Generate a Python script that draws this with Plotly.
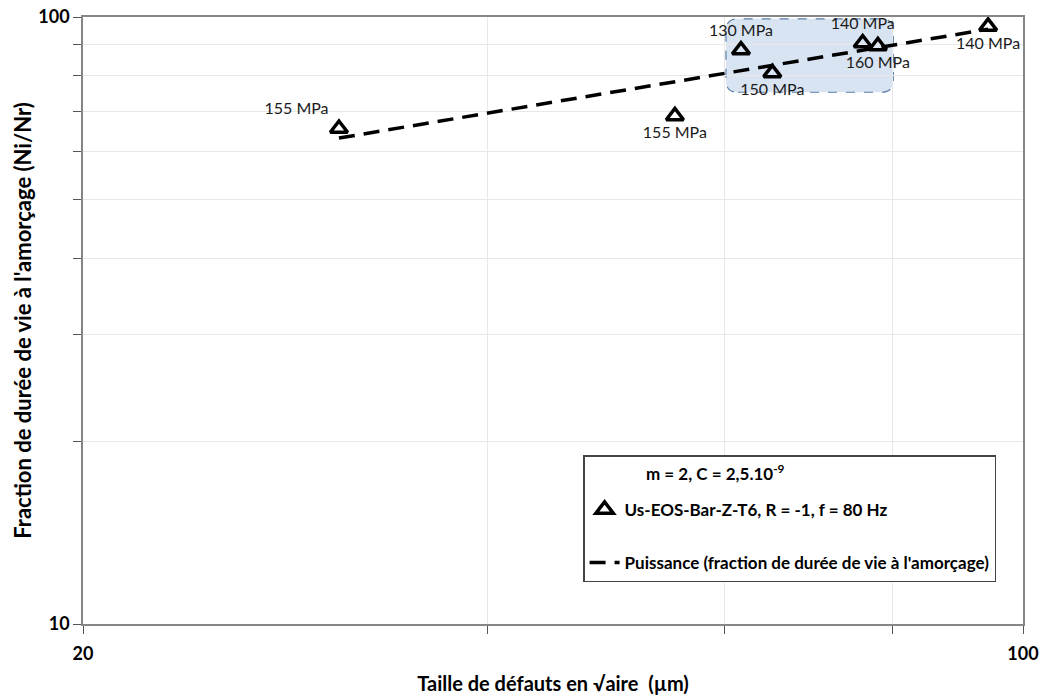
import numpy as np
import plotly.graph_objects as go

# Data
defect_size = [31.0, 55.1, 61.7, 65.1, 76.0, 78.0, 94.2]          # sqrt(area), µm
life_fraction = [65.5, 68.7, 88.2, 80.9, 90.6, 89.6, 96.5]       # Ni/Nr (%)
stress_labels = ["155 MPa", "155 MPa", "130 MPa", "150 MPa", "140 MPa", "160 MPa", "140 MPa"]
label_pos = ["top left", "bottom center", "top center", "bottom center",
             "top center", "bottom center", "bottom center"]

x_ticks = [20, 100]
x_minor = [40, 60, 80]
y_ticks = [10, 100]
y_minor = [20, 30, 40, 50, 60, 70, 80, 90]

series_name = "Us-EOS-Bar-Z-T6, R = -1, f = 80 Hz"
trend_name = "Puissance (fraction de durée de vie à l'amorçage)"
info_text = "m = 2, C = 2,5.10<sup>-9</sup>"

# Power-law trendline (least squares in log-log space, as a spreadsheet "Puissance" trend)
b, a = np.polyfit(np.log10(defect_size), np.log10(life_fraction), 1)
tx = np.array([min(defect_size), max(defect_size)])
ty = 10 ** (a + b * np.log10(tx))

FONT = "Lato"

fig = go.Figure()

fig.add_trace(go.Scatter(
    x=defect_size, y=life_fraction, mode="markers+text", name=series_name,
    text=stress_labels, textposition=label_pos,
    textfont=dict(family=FONT, size=16, color="#1a1a1a"),
    marker=dict(symbol="triangle-up-open", size=15, color="black",
                line=dict(width=3.5, color="black")),
    legendgroup="g1",
))
fig.add_trace(go.Scatter(
    x=tx, y=ty, mode="lines", name=trend_name,
    line=dict(color="black", width=3.5, dash="16px,9px"),
    legendgroup="g2",
))

# Rounded highlight box (paper coordinates)
x0, x1, y0, y1 = 0.684, 0.862, 0.876, 0.997
rx, ry = 0.0128, 0.0198
path = (f"M {x0+rx},{y0} L {x1-rx},{y0} Q {x1},{y0} {x1},{y0+ry} "
        f"L {x1},{y1-ry} Q {x1},{y1} {x1-rx},{y1} "
        f"L {x0+rx},{y1} Q {x0},{y1} {x0},{y1-ry} "
        f"L {x0},{y0+ry} Q {x0},{y0} {x0+rx},{y0} Z")
fig.add_shape(type="path", path=path, xref="paper", yref="paper",
              fillcolor="rgba(204,219,238,0.75)",
              line=dict(color="#5a7fa8", width=1.2, dash="dash"),
              layer="between")

axis_common = dict(
    type="log", showline=True, linecolor="#868686", linewidth=1.5, mirror=True,
    ticks="outside", ticklen=8, tickcolor="#555555", tickwidth=1,
    showgrid=False, zeroline=False, automargin=False, ticklabeloverflow="allow",
    tickfont=dict(family=FONT, size=18, color="black", weight="bold"),
)

fig.update_xaxes(
    **axis_common, range=[np.log10(20), np.log10(100)],
    tickvals=x_ticks, ticktext=[str(v) for v in x_ticks], ticklabelstandoff=5,
    minor=dict(tickvals=x_minor, ticks="outside", ticklen=8, tickcolor="#555555",
               showgrid=True, gridcolor="#e8e8e8", gridwidth=1),
    title=dict(text="Taille de défauts en √aire  (µm)",
               font=dict(family=FONT, size=20, color="black", weight="bold")),
)
fig.update_yaxes(
    **axis_common, range=[1, 2],
    tickvals=y_ticks, ticktext=[str(v) for v in y_ticks],
    minor=dict(tickvals=y_minor, ticks="outside", ticklen=8, tickcolor="#555555",
               showgrid=True, gridcolor="#e8e8e8", gridwidth=1),
    title=dict(text="Fraction de durée de vie à l'amorçage (Ni/Nr)", standoff=1,
               font=dict(family=FONT, size=22, color="black", weight="bold")),
)

# Info line shown inside the legend box
fig.add_annotation(
    text=info_text, xref="paper", yref="paper", x=0.597, y=0.250,
    xanchor="left", yanchor="middle", showarrow=False,
    font=dict(family=FONT, size=17, color="black", weight="bold"),
)

fig.update_layout(
    width=1039, height=695,
    margin=dict(l=83, r=16, t=17, b=71),
    paper_bgcolor="white", plot_bgcolor="white",
    font=dict(family=FONT, color="black"),
    showlegend=True,
    legend=dict(
        x=0.532, y=0.278, xanchor="left", yanchor="top",
        bgcolor="white", bordercolor="#444444", borderwidth=1.5,
        font=dict(family=FONT, size=17, color="black", weight="bold"),
        title=dict(text="\u00a0", font=dict(family=FONT, size=27, color="black")),
        tracegroupgap=28, itemwidth=30,
    ),
)

fig.write_html("out.html", config={"displayModeBar": False},
               post_script="document.body.style.margin='0';document.body.style.overflow='hidden';")
